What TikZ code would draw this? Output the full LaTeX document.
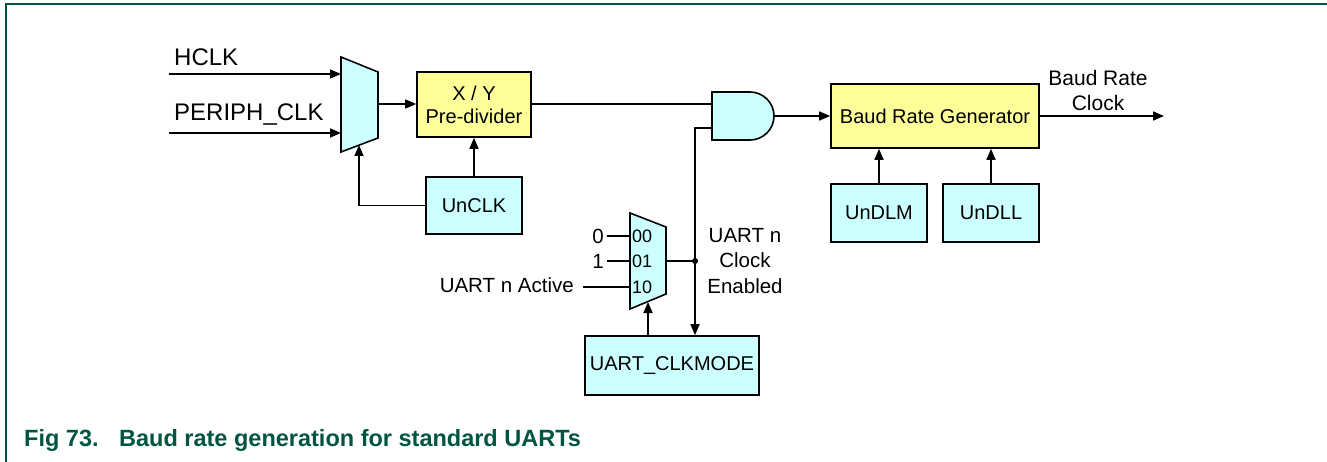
\documentclass[tikz,border=0pt]{standalone}
\usepackage{fontspec}
\setmainfont{Liberation Sans}
\usetikzlibrary{arrows.meta}
\definecolor{framegreen}{RGB}{0,84,66}
\definecolor{boxcyan}{RGB}{204,255,255}
\definecolor{boxyellow}{RGB}{255,255,153}
\tikzset{
  blk/.style={draw=black, line width=1.6pt, inner sep=0pt, align=center, font=\fontsize{20}{23}\selectfont},
  cyanbox/.style={blk, fill=boxcyan},
  yellowbox/.style={blk, fill=boxyellow},
  wire/.style={line width=1.6pt, black},
  arr/.style={wire, -{Triangle[length=11pt,width=9pt]}},
  lbl/.style={inner sep=0pt, font=\fontsize{20.5}{25.5}\selectfont},
  biglbl/.style={inner sep=0pt, font=\fontsize{24}{27}\selectfont},
  smalllbl/.style={inner sep=0pt, font=\fontsize{18}{21}\selectfont},
  captxt/.style={anchor=west, inner sep=0pt, text=framegreen, font=\bfseries\fontsize{23.5}{26}\selectfont},
}
\begin{document}
\begin{tikzpicture}[x=1pt,y=-1pt]
\useasboundingbox (0,0) rectangle (1327,462);
% frame
\draw[framegreen, line width=2pt] (6,462) -- (6,4) -- (1327,4);
% caption
\node[captxt] (figno) at (24,440) {Fig 73.};
\node[captxt] (caption) at (119,440) {Baud rate generation for standard UARTs};

% top mux
\draw[line width=1.6pt, fill=boxcyan] (341,57) -- (378,72) -- (378,138) -- (341,152) -- cycle;
\coordinate (muxAin1) at (341,74);
\coordinate (muxAin2) at (341,133);
\coordinate (muxAout) at (378,104);
\coordinate (muxAsel) at (359,145);
\coordinate (hclkstart) at (169,74);
\coordinate (periphstart) at (169,133);

% labels
\node[biglbl, anchor=west] (hclk) at (174,57) {HCLK};
\node[biglbl, anchor=west] (periph) at (174,115) {PERIPH\_CLK};

% boxes
\node[yellowbox, minimum width=114pt, minimum height=65pt] (prediv) at (474,104.5) {X / Y\\Pre-divider};
\node[cyanbox, minimum width=96pt, minimum height=57pt] (unclk) at (474,205.5) {UnCLK};
\node[yellowbox, minimum width=208pt, minimum height=64pt] (brg) at (935,116) {Baud Rate Generator};
\node[cyanbox, minimum width=96pt, minimum height=58pt] (undlm) at (879,213) {UnDLM};
\node[cyanbox, minimum width=96pt, minimum height=58pt] (undll) at (991,213) {UnDLL};
\node[cyanbox, minimum width=174pt, minimum height=59pt] (clkmode) at (672,365.5) {UART\_CLKMODE};

% AND gate
\draw[line width=1.6pt, fill=boxcyan] (712,92) -- (750,92) arc[start angle=90, end angle=-90, radius=24pt] -- (712,140) -- cycle;
\coordinate (andin1) at (712,104);
\coordinate (andin2) at (712,128);
\coordinate (andout) at (774,116);

% bottom mux
\draw[line width=1.6pt, fill=boxcyan] (630,213) -- (666,227) -- (666,294) -- (630,309) -- cycle;
\coordinate (muxBin1) at (630,236);
\coordinate (muxBin2) at (630,261);
\coordinate (muxBin3) at (630,287);
\coordinate (muxBout) at (666,261);
\coordinate (muxBsel) at (648,302);
\coordinate (junc) at (695,261);
\node[smalllbl, anchor=west] (s00) at (632,236) {00};
\node[smalllbl, anchor=west] (s01) at (632,261) {01};
\node[smalllbl, anchor=west] (s10) at (632,287) {10};
\node[lbl, anchor=east] (zero) at (604,236) {0};
\node[lbl, anchor=east] (one) at (604,261) {1};
\node[lbl, anchor=east] (active) at (574,285) {UART n Active};
\coordinate (activeend) at (583,287);
\node[lbl, align=center] (enabled) at (745,261) {UART n\\Clock\\Enabled};
\node[lbl, align=center, font=\fontsize{21}{25}\selectfont] (brclk) at (1098,90.5) {Baud Rate\\Clock};
\coordinate (brgout) at (1164,116);

% connectors
\draw[arr] (hclkstart) -- (muxAin1);
\draw[arr] (periphstart) -- (muxAin2);
\draw[arr] (muxAout) -- (prediv.west |- muxAout);
\draw[arr] (unclk.north) -- (prediv.south);
\draw[arr] (unclk.west) -| (muxAsel);
\draw[wire] (prediv.east |- andin1) -- (andin1);
\draw[arr] (andout) -- (brg.west |- andout);
\draw[arr] (brg.east |- brgout) -- (brgout);
\draw[arr] (undlm.north) -- (undlm.north |- brg.south);
\draw[arr] (undll.north) -- (undll.north |- brg.south);
\draw[arr] (andin2) -| (junc) -- (junc |- clkmode.north);
\draw[wire] (muxBout) -- (junc);
\fill (junc) circle[radius=3pt];
\draw[arr] (clkmode.north -| muxBsel) -- (muxBsel);
\draw[wire] (zero.east) ++(3,0) -- (muxBin1);
\draw[wire] (one.east) ++(3,0) -- (muxBin2);
\draw[wire] (activeend) -- (muxBin3);
\end{tikzpicture}
\end{document}
